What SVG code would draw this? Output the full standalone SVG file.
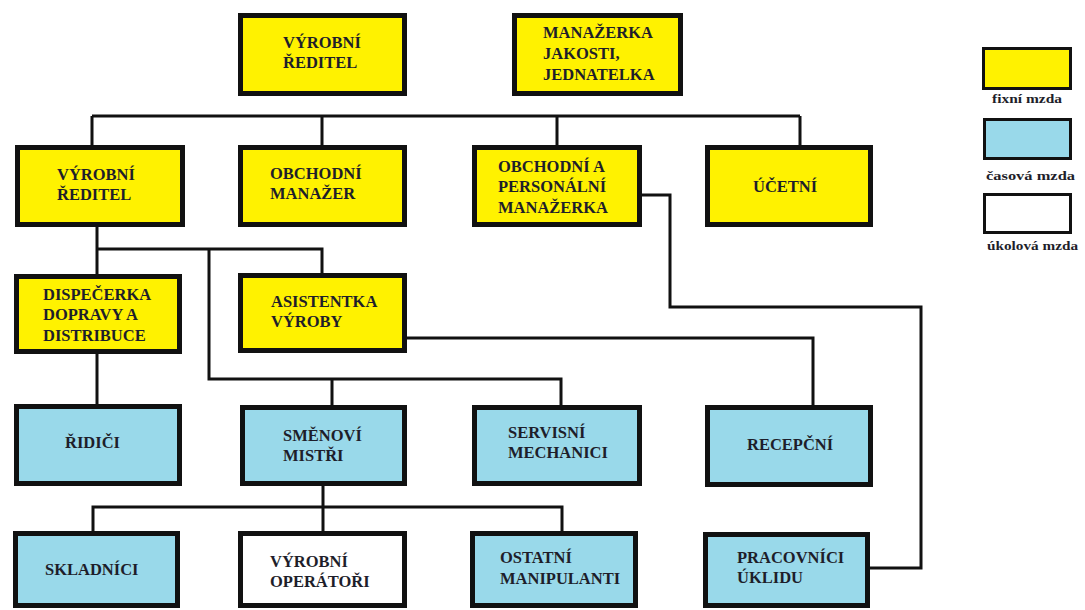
<svg xmlns="http://www.w3.org/2000/svg" width="1085" height="610" viewBox="0 0 1085 610">
<style>
.n{stroke:#111;stroke-width:5}
.y{fill:#FFF200}
.b{fill:#99D9EA}
.w{fill:#FFFFFF}
.t{font-family:"Liberation Serif","Times New Roman",serif;font-weight:bold;font-size:16.5px;fill:#1e1e2a}
.lg{stroke:#111;stroke-width:3}
.lt{font-family:"Liberation Serif","Times New Roman",serif;font-weight:bold;font-size:13px;fill:#1e1e2a}
#connectors path{fill:none;stroke:#111;stroke-width:3}
</style>
<rect width="1085" height="610" fill="#fff"/>
<g id="connectors">
<path d="M92,116 H800 M92,116 V145 M322,116 V145 M557,116 V145 M800,116 V145"/>
<path d="M97,227 V274 M97,249 H322 V273"/>
<path d="M209,249 V379 H561 V405 M332,379 V405"/>
<path d="M97,354 V405"/>
<path d="M407,338 H813 V405"/>
<path d="M642,195 H670 V307 H921 V568 H870"/>
<path d="M323,486 V531 M93,531 V507 H562 V531"/>
</g>
<g id="n-vyrobni-reditel-top">
<rect class="n y" x="240.5" y="15.5" width="164" height="78"/>
<text class="t" x="283" y="48">VÝROBNÍ</text>
<text class="t" x="283" y="68">ŘEDITEL</text>
</g>
<g id="n-manazerka-jakosti">
<rect class="n y" x="514.5" y="15.5" width="166" height="78"/>
<text class="t" x="543" y="38">MANAŽERKA</text>
<text class="t" x="543" y="59">JAKOSTI,</text>
<text class="t" x="543" y="80">JEDNATELKA</text>
</g>
<g id="n-vyrobni-reditel">
<rect class="n y" x="17.5" y="147.5" width="165" height="77"/>
<text class="t" x="57" y="180">VÝROBNÍ</text>
<text class="t" x="57" y="200">ŘEDITEL</text>
</g>
<g id="n-obchodni-manazer">
<rect class="n y" x="240.5" y="147.5" width="164" height="77"/>
<text class="t" x="270" y="179">OBCHODNÍ</text>
<text class="t" x="270" y="199">MANAŽER</text>
</g>
<g id="n-obchodni-personalni">
<rect class="n y" x="474.5" y="147.5" width="165" height="77"/>
<text class="t" x="498" y="172">OBCHODNÍ A</text>
<text class="t" x="498" y="192">PERSONÁLNÍ</text>
<text class="t" x="498" y="213">MANAŽERKA</text>
</g>
<g id="n-ucetni">
<rect class="n y" x="707.5" y="147.5" width="163" height="77"/>
<text class="t" x="753" y="192">ÚČETNÍ</text>
</g>
<g id="n-dispecerka">
<rect class="n y" x="16.5" y="276.5" width="163" height="75"/>
<text class="t" x="43" y="300">DISPEČERKA</text>
<text class="t" x="43" y="320">DOPRAVY A</text>
<text class="t" x="43" y="341">DISTRIBUCE</text>
</g>
<g id="n-asistentka">
<rect class="n y" x="240.5" y="275.5" width="164" height="75"/>
<text class="t" x="271" y="307">ASISTENTKA</text>
<text class="t" x="271" y="327">VÝROBY</text>
</g>
<g id="n-ridici">
<rect class="n b" x="16.5" y="406.5" width="163" height="77"/>
<text class="t" x="65" y="448">ŘIDIČI</text>
</g>
<g id="n-smenovi-mistri">
<rect class="n b" x="242.5" y="407.5" width="162" height="76"/>
<text class="t" x="283" y="441">SMĚNOVÍ</text>
<text class="t" x="283" y="461">MISTŘI</text>
</g>
<g id="n-servisni">
<rect class="n b" x="474.5" y="407.5" width="165" height="76"/>
<text class="t" x="508" y="438">SERVISNÍ</text>
<text class="t" x="508" y="458">MECHANICI</text>
</g>
<g id="n-recepcni">
<rect class="n b" x="707.5" y="407.5" width="163" height="77"/>
<text class="t" x="747" y="450">RECEPČNÍ</text>
</g>
<g id="n-skladnici">
<rect class="n b" x="15.5" y="533.5" width="162" height="72"/>
<text class="t" x="45" y="575">SKLADNÍCI</text>
</g>
<g id="n-vyrobni-operatori">
<rect class="n w" x="240.5" y="533.5" width="164" height="72"/>
<text class="t" x="270" y="567">VÝROBNÍ</text>
<text class="t" x="270" y="587">OPERÁTOŘI</text>
</g>
<g id="n-ostatni">
<rect class="n b" x="472.5" y="533.5" width="163" height="72"/>
<text class="t" x="500" y="563">OSTATNÍ</text>
<text class="t" x="500" y="584">MANIPULANTI</text>
</g>
<g id="n-pracovnici-uklidu">
<rect class="n b" x="705.5" y="534.5" width="162" height="71"/>
<text class="t" x="737" y="563">PRACOVNÍCI</text>
<text class="t" x="737" y="583">ÚKLIDU</text>
</g>
<g id="legend">
<rect class="lg y" x="983.5" y="48.5" width="87" height="40"/>
<text class="lt" x="992" y="103" textLength="70" lengthAdjust="spacingAndGlyphs">fixní mzda</text>
<rect class="lg b" x="984.5" y="119.5" width="86" height="39"/>
<text class="lt" x="986" y="180" textLength="89" lengthAdjust="spacingAndGlyphs">časová mzda</text>
<rect class="lg w" x="984.5" y="194.5" width="86" height="38"/>
<text class="lt" x="987" y="250" textLength="91" lengthAdjust="spacingAndGlyphs">úkolová mzda</text>
</g>
</svg>
